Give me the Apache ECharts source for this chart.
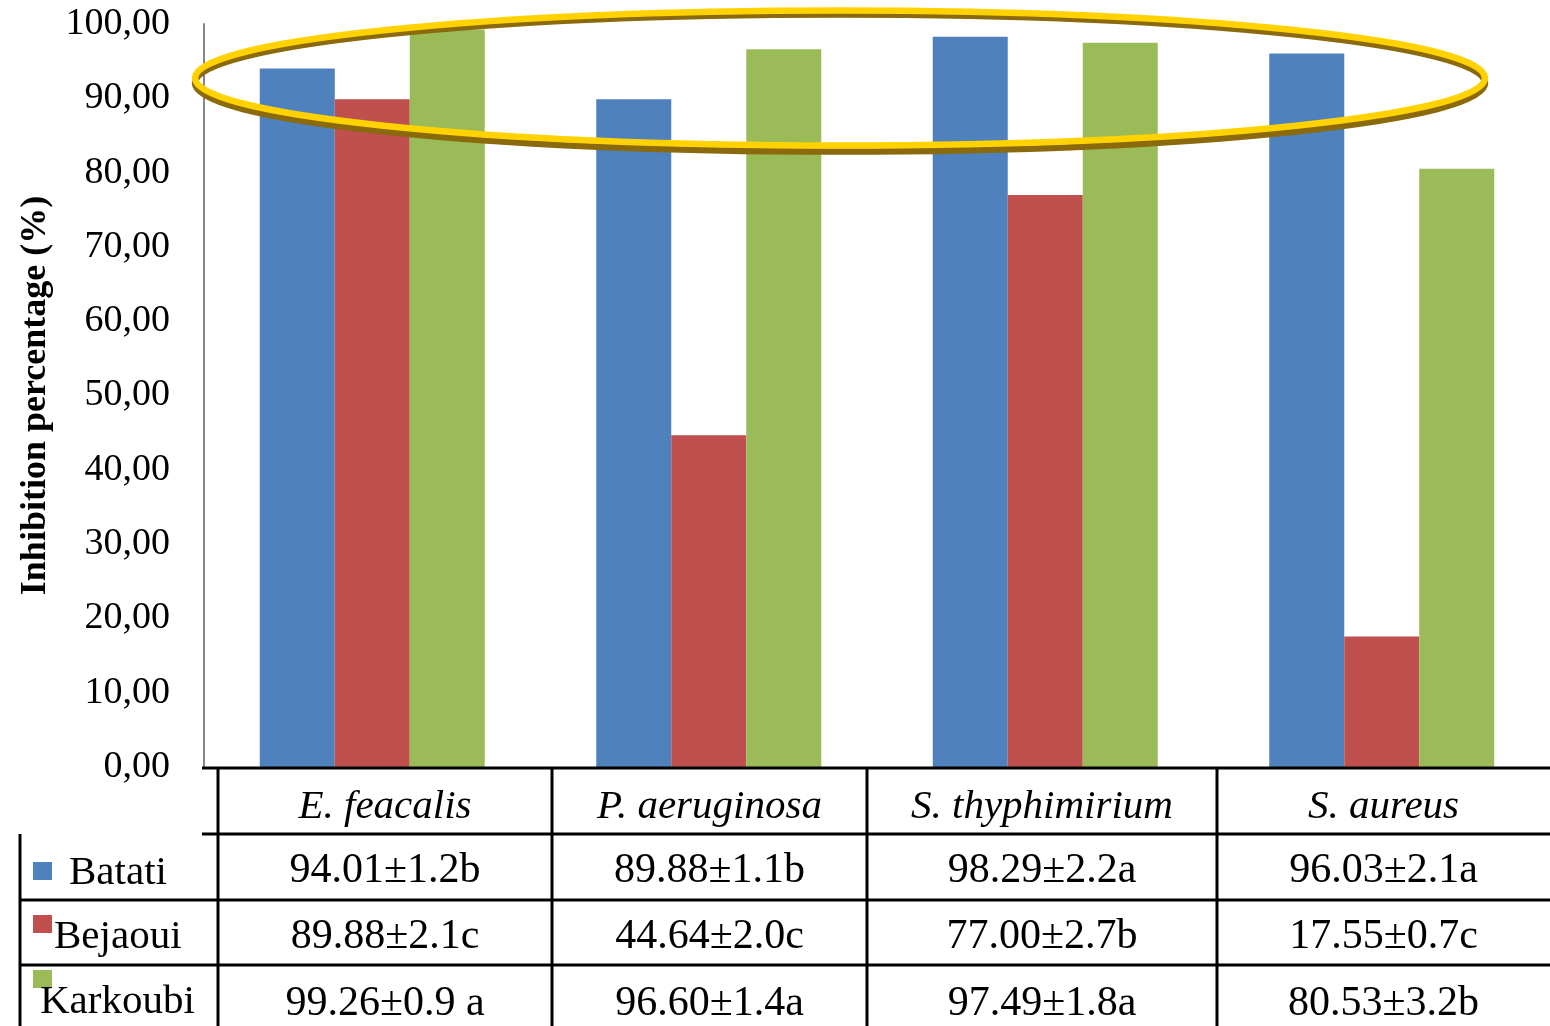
<!DOCTYPE html>
<html><head><meta charset="utf-8">
<script src="https://cdn.jsdelivr.net/npm/echarts@6/dist/echarts.min.js"></script>
<style>html,body{margin:0;padding:0;background:#fff}#c{width:1550px;height:1026px}</style>
</head><body><div id="c"></div>
<script>
// ---- data ----
const categories = ['E. feacalis', 'P. aeruginosa', 'S. thyphimirium', 'S. aureus'];
const seriesNames = ['Batati', 'Bejaoui', 'Karkoubi'];
const batati = [94.01, 89.88, 98.29, 96.03];
const bejaoui = [89.88, 44.64, 77.00, 17.55];
const karkoubi = [99.26, 96.60, 97.49, 80.53];
const batatiSD = ['1.2', '1.1', '2.2', '2.1'];
const bejaouiSD = ['2.1', '2.0', '2.7', '0.7'];
const karkoubiSD = ['0.9', '1.4', '1.8', '3.2'];
const batatiLetters = ['b', 'b', 'a', 'a'];
const bejaouiLetters = ['c', 'c', 'b', 'c'];
const karkoubiLetters = [' a', 'a', 'a', 'b'];
const yTickLabels = ['0,00', '10,00', '20,00', '30,00', '40,00', '50,00', '60,00', '70,00', '80,00', '90,00', '100,00'];

// ---- style / layout ----
const colors = ['#4F81BD', '#C0504D', '#9BBB59'];
const serif = '"Liberation Serif", "Times New Roman", serif';
const values = [batati, bejaoui, karkoubi];
const sds = [batatiSD, bejaouiSD, karkoubiSD];
const letters = [batatiLetters, bejaouiLetters, karkoubiLetters];

const colX = [218, 552, 867, 1217, 1550];
const rowY = [768, 834, 900, 965, 1026];
const legendTextX = [69, 54, 40];
const legendTextY = [873, 937, 1002];
const legendSqY = [862, 915, 970];

const graphics = [];
function line(x1, y1, x2, y2) {
  graphics.push({type: 'line', z: 50, shape: {x1, y1, x2, y2}, style: {stroke: '#000', lineWidth: 3}});
}
line(202, rowY[0], 1550, rowY[0]);
line(202, rowY[1], 1550, rowY[1]);
line(20, rowY[2], 1550, rowY[2]);
line(20, rowY[3], 1550, rowY[3]);
line(20, rowY[1], 20, 1026);
for (let i = 0; i < 4; i++) line(colX[i], rowY[0], colX[i], 1026);

categories.forEach((c, i) => {
  graphics.push({type: 'text', z: 50, x: (colX[i] + colX[i + 1]) / 2, y: (rowY[0] + rowY[1]) / 2 + 6,
    style: {text: c, font: 'italic 41px ' + serif, fill: '#000', textAlign: 'center', textVerticalAlign: 'middle'}});
});
seriesNames.forEach((s, r) => {
  graphics.push({type: 'rect', z: 50, shape: {x: 33, y: legendSqY[r], width: 19, height: 18}, style: {fill: colors[r]}});
  graphics.push({type: 'text', z: 50, x: legendTextX[r], y: legendTextY[r],
    style: {text: s, font: '41px ' + serif, fill: '#000', textAlign: 'left', textVerticalAlign: 'middle'}});
  categories.forEach((c, i) => {
    const t = values[r][i].toFixed(2) + '±' + sds[r][i] + letters[r][i];
    graphics.push({type: 'text', z: 50, x: (colX[i] + colX[i + 1]) / 2, y: (rowY[r + 1] + rowY[r + 2]) / 2 + 4 + (r === 2 ? 4 : 0),
      style: {text: t, font: '42px ' + serif, fill: '#000', textAlign: 'center', textVerticalAlign: 'middle'}});
  });
});
// highlight ellipse (shadow band under a gold band)
graphics.push({type: 'ellipse', z: 100, shape: {cx: 840, cy: 83, rx: 645, ry: 68.5},
  style: {fill: 'none', stroke: '#8A6A0C', lineWidth: 6.5}});
graphics.push({type: 'ellipse', z: 101, shape: {cx: 840, cy: 78, rx: 645, ry: 67.5},
  style: {fill: 'none', stroke: '#FFD200', lineWidth: 6.5}});

const chart = echarts.init(document.getElementById('c'), null, {renderer: 'canvas'});
chart.setOption({
  animation: false,
  backgroundColor: '#fff',
  grid: {left: 204, right: 0, top: 24, bottom: 259, containLabel: false, outerBoundsMode: 'none'},
  xAxis: {type: 'category', data: categories, axisLine: {show: false}, axisTick: {show: false}, axisLabel: {show: false}},
  yAxis: {
    type: 'value', min: 0, max: 100, interval: 10,
    name: 'Inhibition percentage (%)', nameLocation: 'middle', nameGap: 150,
    nameTextStyle: {fontFamily: serif, fontWeight: 'bold', fontSize: 36, color: '#000'},
    axisLine: {show: true, lineStyle: {color: '#868686', width: 2}},
    axisTick: {show: false},
    splitLine: {show: false},
    axisLabel: {margin: 34, fontFamily: serif, fontSize: 38, color: '#000',
      formatter: v => yTickLabels[Math.round(v / 10)]}
  },
  series: seriesNames.map((n, k) => ({
    name: n, type: 'bar', data: values[k], barWidth: 75, barGap: '0%',
    itemStyle: {color: colors[k]}
  })),
  graphic: graphics
});
</script></body></html>
